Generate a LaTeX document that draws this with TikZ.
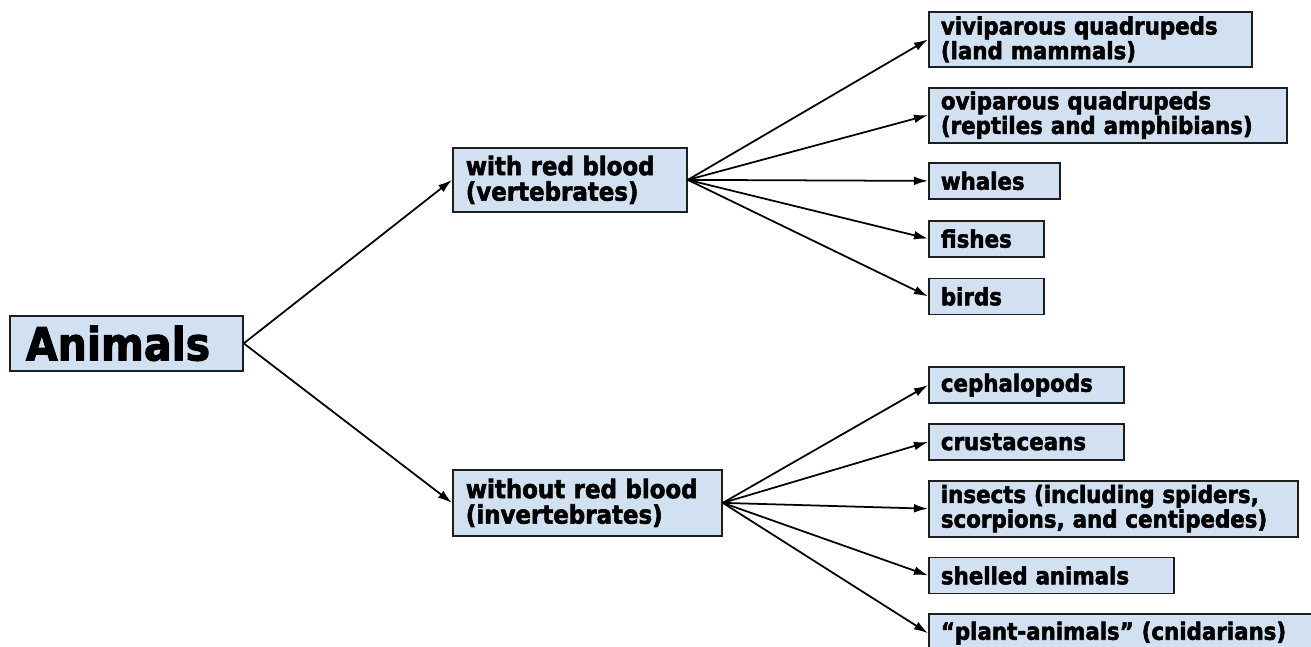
\documentclass[tikz,border=0pt]{standalone}
\usepackage{fontspec}
\setmainfont{DejaVu Sans Condensed}[BoldFont={DejaVu Sans Condensed Bold}, BoldFeatures={FakeBold=2.2}]
\usepackage{xcolor}
\usetikzlibrary{shapes,arrows,arrows.meta,positioning,calc}
\definecolor{boxblue}{RGB}{210,225,242}
\definecolor{edgegray}{RGB}{30,30,30}

\begin{document}
\begin{tikzpicture}[
    group/.style={rectangle, draw=edgegray, line width=1pt, fill=boxblue, align=left, inner xsep=0.24cm, inner ysep=0pt, font=\bfseries\fontsize{13.5}{14}\selectfont},
    arrow/.style={-{Latex[length=8pt,width=5pt]}, line width=1pt}
]
    \useasboundingbox (0,0) rectangle (26.22,-12.94);

    \node[group, anchor=north west, text width=4.02cm, minimum height=1.1cm, inner xsep=0.32cm, font=\bfseries\fontsize{26}{26}\selectfont] (animals) at (0.18,-6.30) {Animals};

    \node[group, anchor=north west, text width=4.16cm, minimum height=1.28cm, inner xsep=0.26cm, font=\bfseries\fontsize{14.5}{14.5}\selectfont] (red) at (9.04,-2.94) {with red blood\\(vertebrates)};
    \node[group, anchor=north west, text width=4.86cm, minimum height=1.32cm, inner xsep=0.26cm, font=\bfseries\fontsize{14.5}{14.5}\selectfont] (nored) at (9.04,-9.38) {without red blood\\(invertebrates)};

    \node[group, anchor=north west, text width=5.98cm, minimum height=1.1cm] (vivi) at (18.56,-0.22) {viviparous quadrupeds\\(land mammals)};
    \node[group, below=0.38cm of vivi.south west, anchor=north west, text width=6.68cm, minimum height=1.1cm] (ovi) {oviparous quadrupeds\\(reptiles and amphibians)};
    \node[group, below=0.37cm of ovi.south west, anchor=north west, text width=2.14cm, minimum height=0.72cm] (whales) {whales};
    \node[group, below=0.40cm of whales.south west, anchor=north west, text width=1.82cm, minimum height=0.72cm] (fishes) {fishes};
    \node[group, below=0.40cm of fishes.south west, anchor=north west, text width=1.82cm, minimum height=0.72cm] (birds) {birds};

    \node[group, below=1.02cm of birds.south west, anchor=north west, text width=3.42cm, minimum height=0.72cm] (cephalo) {cephalopods};
    \node[group, below=0.38cm of cephalo.south west, anchor=north west, text width=3.42cm, minimum height=0.72cm] (crust) {crustaceans};
    \node[group, below=0.38cm of crust.south west, anchor=north west, text width=6.9cm, minimum height=1.12cm] (insects) {insects (including spiders,\\scorpions, and centipedes)};
    \node[group, below=0.38cm of insects.south west, anchor=north west, text width=4.42cm, minimum height=0.72cm] (shelled) {shelled animals};
    \node[group, below=0.38cm of shelled.south west, anchor=north west, text width=7.3cm, minimum height=0.76cm] (plant) {``plant-animals'' (cnidarians)};

    \draw[arrow] (animals.east) -- (red.west);
    \draw[arrow] (animals.east) -- (nored.west);

    \draw[arrow] (red.east) -- (vivi.west);
    \draw[arrow] (red.east) -- (ovi.west);
    \draw[arrow] (red.east) -- (whales.west);
    \draw[arrow] (red.east) -- (fishes.west);
    \draw[arrow] (red.east) -- (birds.west);

    \draw[arrow] (nored.east) -- (cephalo.west);
    \draw[arrow] (nored.east) -- (crust.west);
    \draw[arrow] (nored.east) -- (insects.west);
    \draw[arrow] (nored.east) -- (shelled.west);
    \draw[arrow] (nored.east) -- (plant.west);
\end{tikzpicture}
\end{document}
